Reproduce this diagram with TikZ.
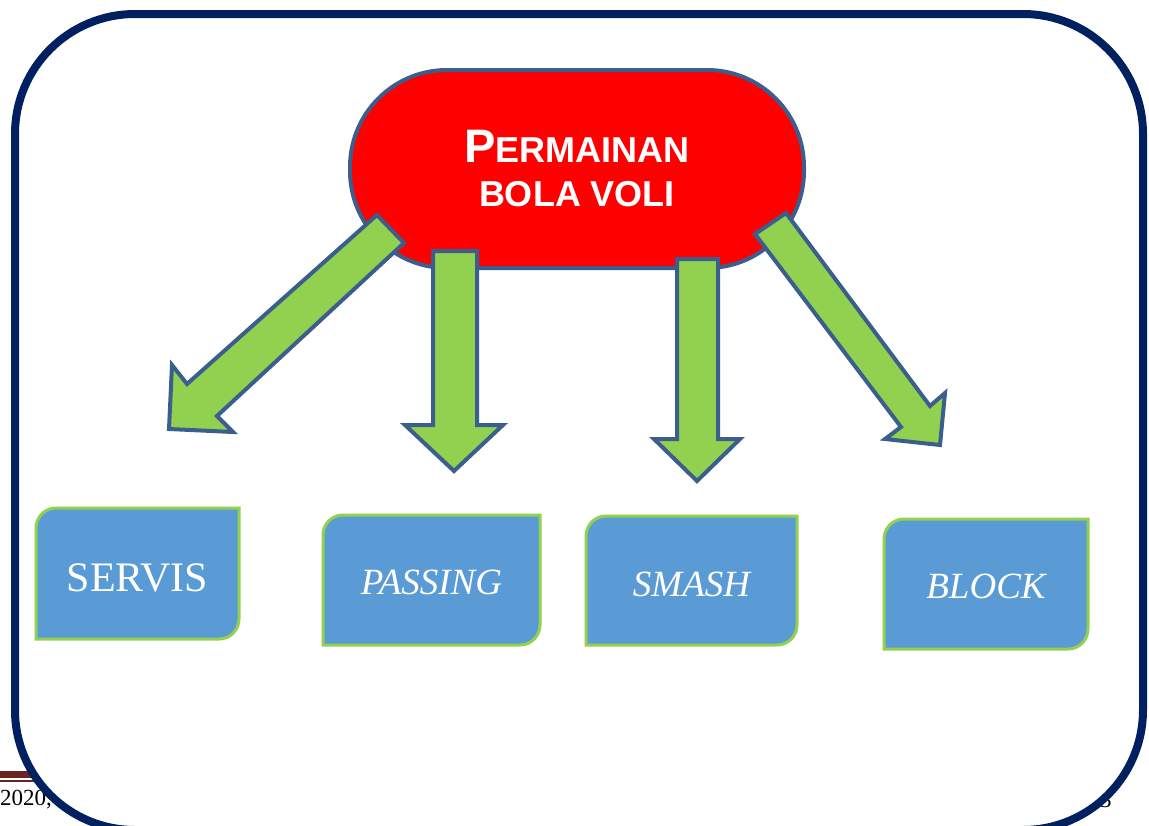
\documentclass[tikz,border=0pt]{standalone}
\usepackage{fontspec}
\setmainfont{Liberation Serif}
\newfontfamily\titlefont{Liberation Sans}
\definecolor{framenavy}{RGB}{0,32,96}
\definecolor{shapeblue}{RGB}{60,94,140}
\definecolor{arrowgreen}{HTML}{92D050}
\definecolor{boxblue}{HTML}{5B9BD5}
\definecolor{footred}{RGB}{107,36,36}
\tikzset{
  frameline/.style={draw=framenavy,line width=8pt,fill=white,rounded corners=120pt},
  gameshape/.style={draw=shapeblue,line width=4pt,fill=red,rounded corners=97pt,
    minimum width=454pt,minimum height=198pt,inner sep=0pt,align=center,text=white,
    font=\titlefont\bfseries\fontsize{36}{44}\selectfont},
  blockarrow/.style={draw=shapeblue,line width=4pt,fill=arrowgreen,line join=miter},
  boxshape/.style={draw=arrowgreen,line width=3pt,fill=boxblue},
  boxtext/.style={text=white,anchor=base,inner sep=0pt},
  foottext/.style={anchor=base west,inner sep=0pt,font=\fontsize{23}{24}\selectfont}
}
\newcommand\diagbox[7]{%
  \draw[boxshape] (#2,#5) -- (#2,#3+20) arc[start angle=180,end angle=270,radius=20]
    -- (#4,#3) -- (#4,#5-20) arc[start angle=0,end angle=90,radius=20] -- cycle;
  \node[boxtext] (#1) at ({(#2+#4)/2},#6) {#7};
}
\begin{document}
\begin{tikzpicture}[x=1pt,y=-1pt]
\useasboundingbox (0,0) rectangle (1149,825);
% footer behind frame
\fill[footred] (0,771) rectangle (80,778);
\fill[footred] (0,780) rectangle (80,782);
\node[foottext] (foot) at (0,805) {2020, I};
\node[foottext] (pnum) at (1100,807) {3};
% frame
\draw[frameline] (15,14) rectangle (1143,830);
% central shape
\node[gameshape] (game) at (577,169)
  {{\fontsize{47}{44}\selectfont P}ERMAINAN\\BOLA VOLI};
% arrows
\draw[blockarrow] (377,215) -- (187,384) -- (172,365) -- (169,429) -- (233,432)
  -- (217,416) -- (404,243) -- cycle;
\draw[blockarrow] (433,251) -- (433,425) -- (405,425) -- (454,471) -- (503,425)
  -- (477,425) -- (477,251) -- cycle;
\draw[blockarrow] (677,259) -- (677,439) -- (654,439) -- (697,481) -- (740,439)
  -- (718,439) -- (718,259) -- cycle;
\draw[blockarrow] (786,213) -- (930,406) -- (945,393) -- (940,445) -- (885,439)
  -- (901,427) -- (755,234) -- cycle;
% boxes
\diagbox{servis}{36}{508}{239}{639}{591}{\fontsize{42}{44}\selectfont SERVIS}
\diagbox{passing}{323}{515}{540}{645}{594}{\fontsize{37}{40}\selectfont\itshape PASSING}
\diagbox{smash}{586}{516}{797}{645}{596}{\fontsize{37}{40}\selectfont\itshape SMASH}
\diagbox{block}{884}{519}{1088}{649}{598}{\fontsize{37}{40}\selectfont\itshape BLOCK}
\end{tikzpicture}
\end{document}
